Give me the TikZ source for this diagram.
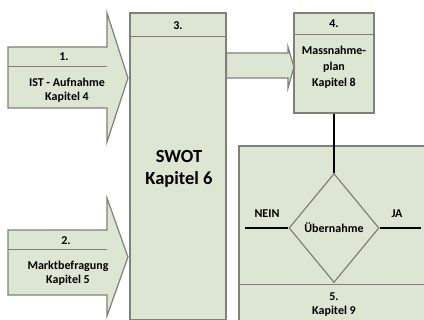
\documentclass[tikz,border=0pt]{standalone}
\usepackage{fontspec}
\setmainfont{Carlito}
\usetikzlibrary{shapes.geometric}
\definecolor{box_fill}{RGB}{221, 229, 211}
\definecolor{box_line}{RGB}{128, 128, 120}
\tikzstyle{blk}=[rectangle,fill=box_fill,draw=box_line,line width=1.2pt,
  inner sep=0pt]
\tikzstyle{dec}=[diamond,fill=box_fill,draw=box_line,line width=1.2pt,
  inner sep=0pt,minimum width=90pt,minimum height=109pt]
\tikzstyle{txt}=[inner sep=0pt,font=\fontsize{12}{14.5}\selectfont\bfseries,
  align=center]
\tikzstyle{bigtxt}=[inner sep=0pt,font=\fontsize{18.5}{22}\selectfont\bfseries,
  align=center]
\tikzstyle{sep}=[draw=box_line,line width=1pt]
\tikzstyle{wire}=[draw=black,line width=1.6pt]

\begin{document}
\begin{tikzpicture}[x=1pt,y=-1pt]
    \useasboundingbox (0,0) rectangle (424,320);
    % block arrows on the left
    \draw [blk] (8,47) -- (107,47) -- (107,13) -- (128,78) -- (107,142)
      -- (107,108) -- (8,108) -- cycle;
    \draw [sep] (8,67) -- (107,67);
    \draw [blk] (8,230) -- (107,230) -- (107,198) -- (128,257) -- (107,316)
      -- (107,295) -- (8,295) -- cycle;
    \draw [sep] (8,250) -- (107,250);
    \node [style=txt] (n1) at (64,57) {1.};
    \node [style=txt] (ist) at (67,90) {IST - Aufnahme\\Kapitel 4};
    \node [style=txt] (n2) at (66,241) {2.};
    \node [style=txt] (markt) at (68,273) {Marktbefragung\\Kapitel 5};
    % boxes
    \node [style=blk,minimum width=96pt,minimum height=307pt] (swot) at (178,166.5) {};
    \node [style=blk,minimum width=188pt,minimum height=176pt] (pruef) at (333,234) {};
    \draw [blk] (swot.east |- 0,53) -- (288,53) -- (288,47) -- (294,67)
      -- (288,88) -- (288,78) -- (swot.east |- 0,78) -- cycle;
    \node [style=blk,minimum width=80pt,minimum height=100pt] (plan) at (334,63) {};
    \draw [sep] (swot.west |- 0,37) -- (swot.east |- 0,37);
    \draw [sep] (plan.west |- 0,35) -- (plan.east |- 0,35);
    \draw [sep] (pruef.west |- 0,285) -- (pruef.east |- 0,285);
    \node [style=txt] (n3) at (178,26) {3.};
    \node [style=bigtxt] (swottxt) at (179,169) {SWOT\\Kapitel 6};
    \node [style=txt] (n4) at (334,24) {4.};
    \node [style=txt,font=\fontsize{12}{16}\selectfont\bfseries] (plantxt) at (334,67) {Massnahme-\\plan\\Kapitel 8};
    % decision
    \node [style=dec] (uebern) at (334,228) {};
    \node [style=txt] (uebtxt) at (334,228) {Übernahme};
    \coordinate (nein_end) at (245,228);
    \coordinate (ja_end) at (421,228);
    \draw [style=wire] (plan.south) to (uebern.north);
    \draw [style=wire] (uebern.west) to (nein_end);
    \draw [style=wire] (uebern.east) to (ja_end);
    \node [style=txt] (nein) at (267,214) {NEIN};
    \node [style=txt] (ja) at (397,214) {JA};
    \node [style=txt] (n5) at (334,297) {5.};
    \node [style=txt] (k9) at (334,311) {Kapitel 9};
  \end{tikzpicture}
\end{document}
